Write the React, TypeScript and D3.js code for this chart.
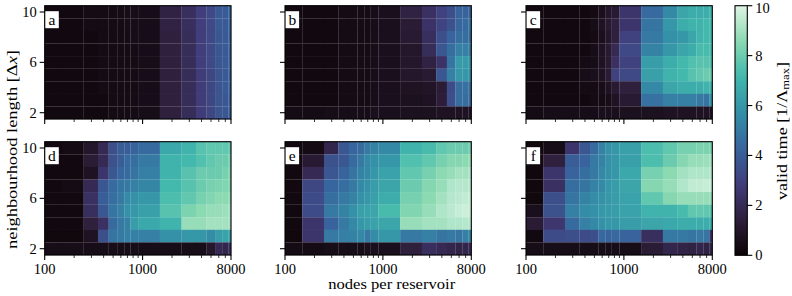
import React from 'react';
import * as d3 from 'd3';

// ---------------- data ----------------
const nodes = [100, 200, 300, 400, 500, 600, 700, 800, 1000, 2000, 3000, 4000, 5000, 6000, 7000, 8000];
const lengths = [10, 9, 8, 7, 6, 5, 4, 3, 2]; // rows, top to bottom
const xMajorTicks = [100, 1000, 8000];
const xMinorTicks = [200, 300, 400, 500, 600, 700, 800, 900, 2000, 3000, 4000, 5000, 6000, 7000];
const yTicks = [2, 6, 10];
const cbTicks = [0, 2, 4, 6, 8, 10];
const panelLetters = ['a', 'b', 'c', 'd', 'e', 'f'];

const panelA = [
  [0.3, 0.3, 0.4, 0.4, 0.4, 0.4, 0.5, 0.5, 0.5, 1.6, 2.2, 2.9, 3.3, 3.9, 3.9, 4.3],
  [0.3, 0.3, 0.4, 0.4, 0.4, 0.4, 0.5, 0.5, 0.5, 1.6, 2.2, 2.9, 3.3, 3.9, 3.9, 4.3],
  [0.3, 0.3, 0.3, 0.4, 0.4, 0.4, 0.4, 0.5, 0.5, 1.5, 2.1, 2.9, 3.3, 3.8, 3.9, 4.2],
  [0.3, 0.3, 0.3, 0.4, 0.4, 0.4, 0.4, 0.4, 0.5, 1.5, 2.1, 2.9, 3.3, 3.8, 3.9, 4.2],
  [0.3, 0.3, 0.3, 0.4, 0.4, 0.4, 0.4, 0.4, 0.5, 1.5, 2.1, 2.9, 3.3, 3.8, 3.9, 4.2],
  [0.3, 0.3, 0.3, 0.4, 0.4, 0.4, 0.4, 0.4, 0.5, 1.5, 2.1, 2.8, 3.2, 3.7, 3.9, 4.2],
  [0.3, 0.3, 0.3, 0.4, 0.4, 0.4, 0.4, 0.4, 0.5, 1.5, 2.1, 2.8, 3.2, 3.7, 3.9, 4.2],
  [0.3, 0.3, 0.3, 0.3, 0.4, 0.4, 0.4, 0.4, 0.5, 1.5, 2.1, 2.8, 3.2, 3.7, 3.8, 4.1],
  [0.3, 0.3, 0.3, 0.3, 0.4, 0.4, 0.4, 0.4, 0.5, 1.5, 2.1, 2.8, 3.2, 3.7, 3.8, 4.1],
];

const panelB = [
  [0.3, 0.3, 0.3, 0.4, 0.4, 0.4, 0.4, 0.5, 0.6, 1.6, 2.3, 3.0, 3.5, 4.2, 4.2, 4.2],
  [0.3, 0.3, 0.3, 0.4, 0.4, 0.4, 0.4, 0.5, 0.6, 1.3, 2.4, 3.1, 3.6, 4.3, 4.5, 4.8],
  [0.3, 0.3, 0.3, 0.4, 0.4, 0.4, 0.4, 0.5, 0.6, 1.2, 2.2, 3.5, 4.2, 4.6, 4.6, 4.6],
  [0.3, 0.3, 0.3, 0.4, 0.4, 0.4, 0.4, 0.5, 0.6, 1.0, 2.1, 3.8, 4.6, 5.2, 5.2, 5.0],
  [0.3, 0.3, 0.3, 0.4, 0.4, 0.4, 0.4, 0.5, 0.6, 1.0, 1.6, 2.4, 4.8, 6.1, 6.1, 5.8],
  [0.3, 0.3, 0.3, 0.4, 0.4, 0.4, 0.4, 0.5, 0.6, 1.0, 1.2, 3.8, 5.2, 6.0, 6.0, 5.6],
  [0.3, 0.3, 0.3, 0.4, 0.4, 0.4, 0.4, 0.5, 0.6, 0.8, 0.9, 1.3, 3.4, 4.6, 4.7, 4.6],
  [0.3, 0.3, 0.3, 0.4, 0.4, 0.4, 0.4, 0.5, 0.6, 0.7, 0.8, 1.4, 3.5, 4.6, 4.6, 4.5],
  [0.4, 0.4, 0.5, 0.5, 0.5, 0.5, 0.5, 0.6, 0.6, 0.7, 0.7, 0.8, 0.8, 0.8, 0.8, 0.8],
];

const panelC = [
  [0.3, 0.3, 0.3, 0.3, 0.4, 0.6, 1.0, 1.2, 2.5, 4.5, 5.5, 6.5, 6.8, 6.8, 6.8, 7.0],
  [0.3, 0.3, 0.3, 0.3, 0.5, 0.8, 1.2, 1.5, 2.5, 4.8, 6.0, 6.8, 7.0, 7.0, 7.2, 7.2],
  [0.3, 0.3, 0.3, 0.3, 0.4, 0.6, 1.0, 1.5, 3.0, 5.0, 5.8, 6.0, 6.5, 7.0, 7.2, 7.2],
  [0.3, 0.3, 0.3, 0.3, 0.5, 0.8, 1.2, 2.0, 3.3, 5.3, 6.0, 6.5, 6.8, 7.3, 7.3, 7.3],
  [0.3, 0.3, 0.3, 0.4, 0.5, 0.8, 1.2, 2.3, 3.0, 6.2, 6.8, 7.2, 7.5, 7.6, 7.6, 7.5],
  [0.3, 0.3, 0.3, 0.5, 0.6, 0.8, 1.3, 3.0, 3.3, 6.3, 7.0, 7.2, 7.6, 7.8, 8.0, 8.0],
  [0.3, 0.3, 0.3, 0.4, 0.4, 0.5, 0.8, 1.2, 1.5, 5.5, 6.5, 6.8, 6.8, 6.8, 7.0, 7.0],
  [0.3, 0.3, 0.3, 0.3, 0.4, 0.4, 0.5, 0.8, 1.2, 4.7, 5.2, 5.2, 5.2, 5.0, 4.8, 6.0],
  [0.4, 0.5, 0.5, 0.5, 0.5, 0.6, 0.6, 0.6, 0.7, 0.7, 0.8, 0.8, 0.8, 0.8, 0.8, 0.8],
];

const panelD = [
  [0.3, 0.4, 1.0, 2.0, 3.5, 4.0, 4.0, 4.2, 4.5, 6.6, 7.0, 7.6, 7.8, 7.8, 7.8, 7.8],
  [0.3, 0.3, 1.3, 2.0, 3.6, 4.0, 4.5, 4.6, 5.0, 7.0, 7.2, 7.5, 7.8, 8.0, 8.0, 8.2],
  [0.3, 0.3, 0.8, 2.5, 3.8, 4.3, 4.5, 4.8, 5.2, 7.0, 7.6, 8.0, 8.0, 8.0, 8.2, 8.4],
  [0.3, 0.4, 2.0, 3.8, 4.5, 4.8, 5.0, 5.2, 5.4, 7.2, 7.6, 8.0, 8.2, 8.3, 8.4, 8.4],
  [0.3, 0.3, 2.3, 4.0, 4.6, 5.0, 5.5, 5.8, 6.0, 7.4, 7.8, 8.2, 8.4, 8.6, 8.6, 8.7],
  [0.3, 0.3, 2.2, 3.8, 4.8, 5.2, 5.8, 6.0, 6.3, 7.6, 8.3, 8.6, 8.8, 8.8, 8.9, 9.0],
  [0.3, 0.3, 1.5, 2.3, 4.5, 5.0, 5.2, 6.2, 6.6, 7.0, 8.8, 8.8, 9.0, 9.0, 9.0, 9.0],
  [0.2, 0.2, 0.8, 3.5, 4.8, 5.0, 5.2, 5.2, 5.2, 5.8, 6.0, 6.0, 5.6, 6.2, 6.4, 6.4],
  [0.5, 0.5, 0.5, 0.5, 0.5, 0.5, 0.5, 0.5, 0.5, 0.5, 0.5, 0.5, 1.0, 2.0, 1.8, 2.2],
];

const panelE = [
  [0.3, 0.4, 1.8, 3.8, 4.3, 4.5, 5.0, 5.3, 5.5, 7.0, 7.3, 7.8, 8.0, 8.0, 8.0, 8.2],
  [0.3, 1.2, 3.6, 3.8, 4.5, 5.0, 5.5, 5.8, 6.0, 7.5, 7.8, 8.2, 8.5, 8.5, 8.6, 8.8],
  [0.3, 2.0, 3.8, 4.2, 4.8, 5.3, 5.5, 6.0, 6.4, 7.8, 8.2, 8.6, 8.8, 9.0, 9.0, 9.2],
  [0.3, 3.2, 4.3, 4.6, 5.0, 5.5, 5.8, 6.2, 6.5, 8.0, 8.5, 8.8, 9.2, 9.3, 9.3, 9.4],
  [0.3, 3.4, 4.6, 5.0, 5.3, 5.8, 6.0, 6.3, 6.8, 8.2, 8.6, 9.0, 9.3, 9.4, 9.5, 9.6],
  [0.3, 3.4, 5.0, 5.3, 5.8, 6.3, 6.4, 6.5, 7.3, 8.4, 8.8, 9.2, 9.4, 9.6, 9.7, 9.6],
  [0.3, 2.5, 4.2, 5.0, 5.5, 6.0, 6.2, 6.4, 6.5, 8.8, 9.0, 9.0, 9.2, 9.2, 9.3, 9.3],
  [0.2, 2.5, 5.0, 5.2, 5.3, 5.5, 5.0, 5.6, 6.0, 5.0, 5.2, 4.8, 5.0, 4.8, 5.2, 5.5],
  [0.4, 0.4, 0.5, 0.5, 0.5, 0.5, 0.6, 0.6, 0.6, 1.5, 2.2, 2.0, 1.8, 1.7, 1.8, 2.0],
];

const panelF = [
  [0.2, 0.5, 2.5, 3.8, 4.5, 5.3, 5.8, 6.0, 6.3, 7.4, 7.8, 8.2, 8.2, 8.3, 8.3, 8.3],
  [0.3, 1.5, 4.0, 4.2, 5.0, 5.3, 5.8, 6.0, 6.3, 7.4, 8.0, 8.5, 8.8, 8.8, 8.9, 9.0],
  [0.2, 2.5, 4.2, 4.6, 5.0, 5.5, 5.8, 6.0, 6.6, 8.2, 8.6, 9.0, 9.2, 9.2, 9.2, 9.3],
  [0.2, 2.3, 4.6, 4.8, 5.3, 5.5, 6.0, 6.2, 6.5, 8.5, 8.8, 9.2, 9.5, 9.5, 9.6, 9.6],
  [0.2, 3.5, 4.8, 5.3, 5.6, 5.8, 6.0, 6.2, 6.4, 7.8, 8.5, 8.8, 8.8, 8.8, 8.8, 8.8],
  [0.6, 3.6, 5.2, 5.6, 5.8, 6.0, 6.1, 6.2, 6.4, 7.0, 7.0, 7.3, 7.8, 7.8, 7.8, 7.6],
  [1.3, 2.6, 4.5, 5.2, 5.5, 5.8, 6.0, 6.0, 6.2, 6.5, 6.6, 6.8, 6.8, 6.8, 6.8, 6.8],
  [0.3, 3.4, 3.5, 3.4, 3.5, 4.4, 4.2, 4.4, 4.2, 2.2, 5.0, 5.0, 4.8, 5.0, 4.8, 2.5],
  [0.5, 0.5, 0.5, 0.5, 0.5, 0.5, 0.5, 0.5, 0.5, 1.3, 1.8, 1.7, 1.6, 1.8, 1.6, 1.8],
];

const panelData = [panelA, panelB, panelC, panelD, panelE, panelF];

// mako colormap control colours
const makoColors = ['#0b0405', '#2e1e3b', '#413d7b', '#37659e', '#348fa7', '#40b7ad', '#8ad9b1', '#def5e5'];

// ---------------- layout ----------------
const WIDTH = 792;
const HEIGHT = 296;
const lefts = [44.7, 285, 526];
const tops = [5.7, 141.7];
const PW = 186.3;
const PH = 113.3;
const CB = { x: 735, w: 12.3, top: 5.7, bottom: 255.3 };
const FONT = "'Liberation Serif', 'Times New Roman', serif";
const FS = 14.5;

const cmap = d3
  .scaleLinear<string>()
  .domain(makoColors.map((_, i) => (10 * i) / (makoColors.length - 1)))
  .range(makoColors)
  .interpolate(d3.interpolateRgb)
  .clamp(true);

const xScale = d3.scaleLog().domain([100, 8000]).range([0, PW]);
const yScale = d3.scaleLinear().domain([1.5, 10.5]).range([PH, 0]);
const cbScale = d3.scaleLinear().domain([0, 10]).range([CB.bottom, CB.top]);

const xEdges = [
  nodes[0],
  ...d3.pairs(nodes).map(([a, b]) => (a + b) / 2),
  nodes[nodes.length - 1],
];

function Panel({ idx }: { idx: number }) {
  const col = idx % 3;
  const row = Math.floor(idx / 3);
  const ox = lefts[col];
  const oy = tops[row];
  const data = panelData[idx];
  return (
    <g transform={`translate(${ox},${oy})`}>
      {data.map((vals, r) =>
        vals.map((v, c) => {
          const x0 = xScale(xEdges[c]);
          const x1 = xScale(xEdges[c + 1]);
          const y0 = yScale(lengths[r] + 0.5);
          const y1 = yScale(lengths[r] - 0.5);
          return (
            <rect
              key={`${r}-${c}`}
              x={x0}
              y={y0}
              width={x1 - x0 + 0.15}
              height={y1 - y0 + 0.15}
              fill={cmap(v)}
            />
          );
        })
      )}
      <rect x={0} y={0} width={PW} height={PH} fill="none" stroke="#000" strokeWidth={1.1} />
      {/* x ticks */}
      {xMajorTicks.map((t) => (
        <line key={`M${t}`} x1={xScale(t)} x2={xScale(t)} y1={PH} y2={PH + 5} stroke="#000" strokeWidth={1.1} />
      ))}
      {xMinorTicks.map((t) => (
        <line key={`m${t}`} x1={xScale(t)} x2={xScale(t)} y1={PH} y2={PH + 3} stroke="#000" strokeWidth={0.8} />
      ))}
      {row === 1 &&
        xMajorTicks.map((t) => (
          <text
            key={`L${t}`}
            x={xScale(t)}
            y={PH + 19}
            textAnchor="middle"
            fontFamily={FONT}
            fontSize={FS}
          >
            {t}
          </text>
        ))}
      {/* y ticks */}
      {yTicks.map((t) => (
        <line key={`y${t}`} x1={-5} x2={0} y1={yScale(t)} y2={yScale(t)} stroke="#000" strokeWidth={1.1} />
      ))}
      {col === 0 &&
        yTicks.map((t) => (
          <text
            key={`yl${t}`}
            x={-8}
            y={yScale(t) + 5}
            textAnchor="end"
            fontFamily={FONT}
            fontSize={FS}
          >
            {t}
          </text>
        ))}
      {/* panel letter */}
      <rect x={0.6} y={5.5} width={13.5} height={17} fill="#fff" />
      <text x={7.3} y={19} textAnchor="middle" fontFamily={FONT} fontSize={FS + 1}>
        {panelLetters[idx]}
      </text>
    </g>
  );
}

export default function App() {
  const gradStops = d3.range(0, 1.0001, 0.05);
  return (
    <svg width={WIDTH} height={HEIGHT} style={{ display: 'block', position: 'absolute', left: 0, top: 0, background: '#fff' }}>
      <defs>
        <linearGradient id="mako" x1="0" y1="1" x2="0" y2="0">
          {gradStops.map((s) => (
            <stop key={s} offset={s} stopColor={cmap(s * 10)} />
          ))}
        </linearGradient>
      </defs>
      <rect x={0} y={0} width={WIDTH} height={HEIGHT} fill="#fff" />
      {panelData.map((_, i) => (
        <Panel key={i} idx={i} />
      ))}
      {/* colorbar */}
      <rect x={CB.x} y={CB.top} width={CB.w} height={CB.bottom - CB.top} fill="url(#mako)" stroke="#000" strokeWidth={1.1} />
      {cbTicks.map((t) => (
        <g key={`cb${t}`}>
          <line x1={CB.x + CB.w} x2={CB.x + CB.w + 5} y1={cbScale(t)} y2={cbScale(t)} stroke="#000" strokeWidth={1.1} />
          <text x={CB.x + CB.w + 8} y={Math.max(cbScale(t) + 5, 13)} fontFamily={FONT} fontSize={FS}>
            {t}
          </text>
        </g>
      ))}
      {/* axis labels */}
      <text
        x={391.7}
        y={289}
        textAnchor="middle"
        fontFamily={FONT}
        fontSize={FS}
        textLength={127}
        lengthAdjust="spacingAndGlyphs"
      >
        nodes per reservoir
      </text>
      <g transform="translate(17,149.5) rotate(-90)">
        <text
          x={0}
          y={0}
          textAnchor="middle"
          fontFamily={FONT}
          fontSize={FS}
          textLength={199}
          lengthAdjust="spacingAndGlyphs"
        >
          neighbourhood length [Δ<tspan fontStyle="italic">x</tspan>]
        </text>
      </g>
      <g transform="translate(786.5,131) rotate(-90)">
        <text
          x={0}
          y={0}
          textAnchor="middle"
          fontFamily={FONT}
          fontSize={FS}
          textLength={138}
          lengthAdjust="spacingAndGlyphs"
        >
          valid time [1/Λ<tspan fontSize={FS * 0.7} dy={2.5}>max</tspan><tspan dy={-2.5}>]</tspan>
        </text>
      </g>
    </svg>
  );
}
